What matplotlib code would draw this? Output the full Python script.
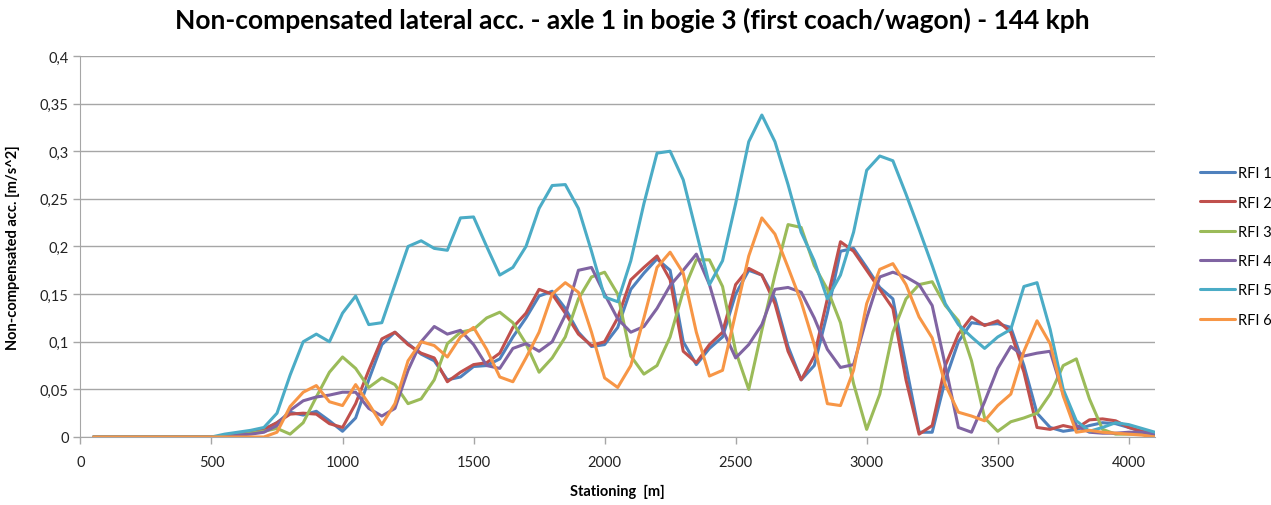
import matplotlib

matplotlib.use("Agg")
import matplotlib.pyplot as plt
from matplotlib.ticker import FuncFormatter, MultipleLocator

# stationing grid [m], 50 m step
stationing = list(range(50, 4101, 50))

_zeros = [0.0] * 10  # 50 .. 500 m

rfi1 = _zeros + [
    0.0, 0.002, 0.004, 0.008, 0.015, 0.026, 0.023, 0.027, 0.017, 0.006,
    0.02, 0.06, 0.097, 0.11, 0.098, 0.087, 0.08, 0.06, 0.063, 0.074,
    0.075, 0.082, 0.105, 0.125, 0.148, 0.153, 0.135, 0.11, 0.095, 0.097,
    0.115, 0.155, 0.172, 0.187, 0.175, 0.1, 0.076, 0.093, 0.105, 0.15,
    0.175, 0.17, 0.145, 0.095, 0.06, 0.075, 0.13, 0.195, 0.198, 0.178,
    0.157, 0.145, 0.075, 0.005, 0.005, 0.06, 0.1, 0.12, 0.118, 0.119,
    0.115, 0.075, 0.025, 0.01, 0.006, 0.008, 0.012, 0.015, 0.014, 0.01,
    0.006, 0.003,
]
rfi2 = _zeros + [
    0.0, 0.002, 0.005, 0.008, 0.015, 0.024, 0.025, 0.024, 0.014, 0.01,
    0.035, 0.07, 0.103, 0.11, 0.097, 0.088, 0.083, 0.058, 0.068, 0.076,
    0.078, 0.088, 0.115, 0.13, 0.155, 0.15, 0.13, 0.108, 0.096, 0.1,
    0.125, 0.165, 0.178, 0.19, 0.165, 0.09, 0.078, 0.097, 0.11, 0.16,
    0.177, 0.17, 0.14, 0.09, 0.06, 0.085, 0.145, 0.205, 0.195, 0.175,
    0.155, 0.135, 0.06, 0.003, 0.012, 0.075, 0.108, 0.126, 0.117, 0.122,
    0.11, 0.068, 0.01, 0.008, 0.012, 0.009, 0.018, 0.019, 0.017, 0.01,
    0.006, 0.003,
]
rfi3 = _zeros + [
    0.0, 0.002, 0.004, 0.006, 0.009, 0.003, 0.015, 0.042, 0.068, 0.084,
    0.072, 0.052, 0.062, 0.055, 0.035, 0.04, 0.06, 0.098, 0.11, 0.113,
    0.125, 0.131, 0.12, 0.098, 0.068, 0.083, 0.105, 0.145, 0.168, 0.173,
    0.15, 0.085, 0.066, 0.075, 0.105, 0.153, 0.186, 0.186, 0.158, 0.09,
    0.05, 0.112, 0.17, 0.223, 0.22, 0.18, 0.155, 0.12, 0.056, 0.008,
    0.045, 0.11, 0.145, 0.16, 0.163, 0.138, 0.122, 0.08, 0.02, 0.006,
    0.016, 0.02, 0.025, 0.045, 0.075, 0.082, 0.04, 0.008, 0.003, 0.003,
    0.003, 0.003,
]
rfi4 = _zeros + [
    0.0, 0.002, 0.003, 0.005, 0.012, 0.028, 0.038, 0.042, 0.044, 0.047,
    0.047, 0.03, 0.022, 0.03, 0.07, 0.1, 0.116, 0.108, 0.112, 0.097,
    0.075, 0.072, 0.093, 0.098, 0.09, 0.1, 0.128, 0.175, 0.178, 0.15,
    0.124, 0.11, 0.116, 0.135, 0.159, 0.175, 0.192, 0.16, 0.113, 0.083,
    0.097, 0.118, 0.155, 0.157, 0.152, 0.125, 0.092, 0.073, 0.076, 0.125,
    0.168, 0.173, 0.168, 0.16, 0.138, 0.075, 0.01, 0.005, 0.037, 0.072,
    0.095, 0.085, 0.088, 0.09, 0.045, 0.012, 0.005, 0.004, 0.004, 0.005,
    0.005, 0.003,
]
rfi5 = _zeros + [
    0.003, 0.005, 0.007, 0.01, 0.025, 0.065, 0.1, 0.108, 0.1, 0.13,
    0.148, 0.118, 0.12, 0.16, 0.2, 0.206, 0.198, 0.196, 0.23, 0.231,
    0.2, 0.17, 0.178, 0.2, 0.24, 0.264, 0.265, 0.24, 0.195, 0.147,
    0.142, 0.185, 0.245, 0.298, 0.3, 0.27, 0.215, 0.16, 0.185, 0.245,
    0.31, 0.338, 0.31, 0.265, 0.215, 0.185, 0.145, 0.17, 0.215, 0.28,
    0.295, 0.29, 0.255, 0.218, 0.18, 0.14, 0.118, 0.105, 0.093, 0.105,
    0.113, 0.158, 0.162, 0.113, 0.05, 0.017, 0.006, 0.01, 0.015, 0.013,
    0.009, 0.005,
]
rfi6 = _zeros + [
    0.0, 0.0, 0.0, 0.0, 0.005, 0.032, 0.047, 0.054, 0.037, 0.033,
    0.055, 0.035, 0.013, 0.035, 0.08, 0.1, 0.096, 0.084, 0.105, 0.115,
    0.092, 0.063, 0.058, 0.083, 0.11, 0.15, 0.162, 0.152, 0.11, 0.062,
    0.052, 0.075, 0.125, 0.178, 0.194, 0.172, 0.11, 0.064, 0.07, 0.13,
    0.19, 0.23, 0.213, 0.178, 0.142, 0.097, 0.035, 0.033, 0.07, 0.14,
    0.176, 0.182, 0.16, 0.126, 0.104, 0.055, 0.026, 0.022, 0.017, 0.033,
    0.045, 0.09, 0.122, 0.098, 0.043, 0.005, 0.007, 0.005, 0.004, 0.003,
    0.002, 0.0,
]

series = [
    ("RFI 1", rfi1, "#4F81BD"),
    ("RFI 2", rfi2, "#C0504D"),
    ("RFI 3", rfi3, "#9BBB59"),
    ("RFI 4", rfi4, "#8064A2"),
    ("RFI 5", rfi5, "#4BACC6"),
    ("RFI 6", rfi6, "#F79646"),
]

plt.rcParams["font.family"] = ["Lato", "DejaVu Sans"]

fig = plt.figure(figsize=(12.71, 5.06), dpi=100)
ax = fig.add_axes([0.0633, 0.1344, 0.8454, 0.753])

for name, vals, col in series:
    ax.plot(stationing, vals, color=col, lw=2.2, label=name,
            solid_capstyle="round", solid_joinstyle="round")

ax.set_xlim(0, 4100)
ax.set_ylim(0, 0.4)
ax.xaxis.set_major_locator(MultipleLocator(500))
ax.yaxis.set_major_locator(MultipleLocator(0.05))

def comma(v, pos):
    s = f"{v:.2f}".rstrip("0").rstrip(".")
    return s.replace(".", ",")

ax.yaxis.set_major_formatter(FuncFormatter(comma))
ax.grid(axis="y", color="#A6A6A6", lw=1.0)
ax.set_axisbelow(True)
for side in ("top", "right"):
    ax.spines[side].set_visible(False)
for side in ("left", "bottom"):
    ax.spines[side].set_color("#A6A6A6")
ax.tick_params(axis="both", colors="#A6A6A6", labelcolor="#222222",
               labelsize=10.5, length=5, width=1)
ax.tick_params(axis="x", pad=8)

ax.set_title("Non-compensated lateral acc. - axle 1 in bogie 3 (first coach/wagon) - 144 kph",
             fontsize=19, fontweight="bold", pad=20, x=0.514)
ax.set_xlabel("Stationing  [m]", fontsize=10.5, fontweight="bold", labelpad=11)
ax.set_ylabel("Non-compensated acc. [m/s^2]", fontsize=10.5, fontweight="bold", labelpad=14)

ax.legend(loc="center left", bbox_to_anchor=(1.03, 0.5), frameon=False,
          fontsize=10.5, handlelength=2.4, labelspacing=1.05, handletextpad=0.15)

fig.savefig("out.png", dpi=100)
